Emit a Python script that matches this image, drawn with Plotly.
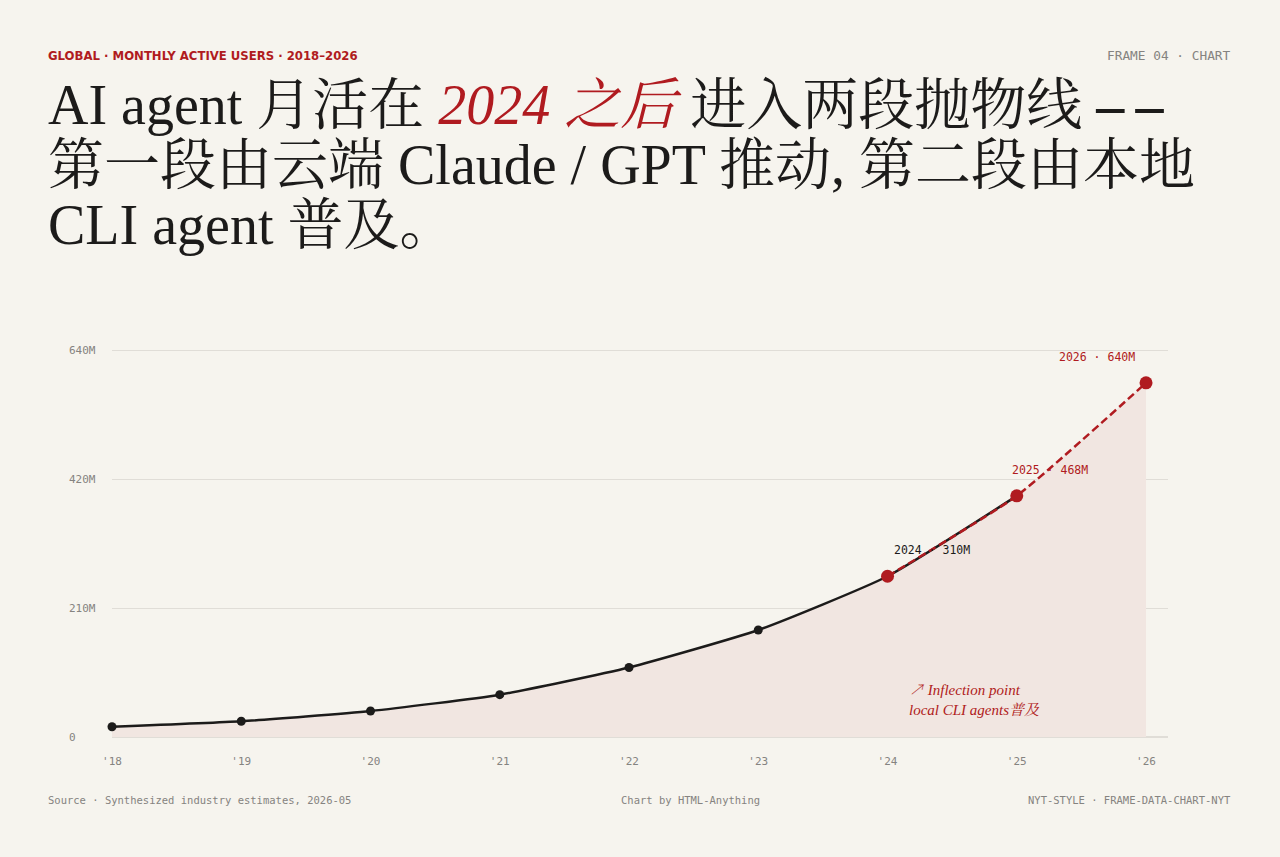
import plotly.graph_objects as go

# data (millions of monthly active users)
years = [2018, 2019, 2020, 2021, 2022, 2023, 2024, 2025, 2026]
year_labels = ["'18", "'19", "'20", "'21", "'22", "'23", "'24", "'25", "'26"]
mau = [17, 26, 43, 70, 115, 177, 266, 399, 586]

y_ticks = [0, 213.3, 426.7, 640]
y_tick_labels = ["0", "210M", "420M", "640M"]

callout_years = [2024, 2025, 2026]
callout_labels = ["2024 · 310M", "2025 · 468M", "2026 · 640M"]

BG = "#f6f4ee"
INK = "#1c1b1a"
RED = "#b01b20"
GREY = "#858380"
MONO = "DejaVu Sans Mono, Liberation Mono, monospace"
SERIF = "Liberation Serif, Noto Serif CJK SC, Noto Sans CJK SC, serif"

W, H = 1280, 857
L, R, T, B = 112, 112, 349, 120


def px(x):
    return (x - L) / (W - L - R)


def py(y):
    return (H - B - y) / (H - T - B)


fig = go.Figure()

# shaded area under the curve
fig.add_trace(go.Scatter(
    x=years, y=mau, mode="lines", fill="tozeroy",
    fillcolor="#f1e6e1", line=dict(width=0, shape="spline", smoothing=0.5),
    hoverinfo="skip", showlegend=False,
))

# observed line
n_obs = 8
fig.add_trace(go.Scatter(
    x=years[:n_obs], y=mau[:n_obs], mode="lines",
    line=dict(color=INK, width=2.5, shape="spline", smoothing=0.5),
    showlegend=False, cliponaxis=False,
))

# highlighted segment from 2024 on
k = years.index(2024)
fig.add_trace(go.Scatter(
    x=years[k:], y=mau[k:], mode="lines",
    line=dict(color=RED, width=2.5, dash="8px,4px", shape="spline", smoothing=0.5),
    showlegend=False, cliponaxis=False,
))

fig.add_trace(go.Scatter(
    x=years[:k], y=mau[:k], mode="markers",
    marker=dict(color=INK, size=9),
    showlegend=False, cliponaxis=False,
))
fig.add_trace(go.Scatter(
    x=years[k:], y=mau[k:], mode="markers",
    marker=dict(color=RED, size=13),
    showlegend=False, cliponaxis=False,
))

annotations = []

# point call-outs
shifts = {2024: ("left", 4, INK), 2025: ("left", -7, RED), 2026: ("right", -9, RED)}
for yr, lab in zip(callout_years, callout_labels):
    anchor, dx, col = shifts[yr]
    annotations.append(dict(
        x=yr, y=mau[years.index(yr)], xref="x", yref="y", text=lab,
        showarrow=False, xanchor=anchor, yanchor="middle",
        xshift=dx, yshift=26, font=dict(family=MONO, size=11.5, color=col),
    ))

# y tick labels, left aligned
for v, lab in zip(y_ticks, y_tick_labels):
    annotations.append(dict(
        x=px(67), y=v, xref="paper", yref="y", text=lab, showarrow=False,
        xanchor="left", yanchor="middle",
        font=dict(family=MONO, size=11, color=GREY),
    ))

# inflection note
annotations.append(dict(
    x=px(907), y=py(700), xref="paper", yref="paper",
    text="<i>↗ Inflection point<br>local CLI agents普及</i>",
    showarrow=False, xanchor="left", yanchor="middle", align="left",
    font=dict(family=SERIF, size=15, color=RED),
))

# header
annotations.append(dict(
    x=px(46), y=py(56), xref="paper", yref="paper",
    text="<b>GLOBAL · MONTHLY ACTIVE USERS · 2018–2026</b>",
    showarrow=False, xanchor="left", yanchor="middle",
    font=dict(family="DejaVu Sans, sans-serif", size=11.7, color=RED),
))
annotations.append(dict(
    x=px(1233), y=py(55), xref="paper", yref="paper",
    text="FRAME 04 · CHART", showarrow=False, xanchor="right", yanchor="middle",
    font=dict(family=MONO, size=12.8, color=GREY),
))

# headline, three lines
title_lines = [
    "AI agent 月活在 <span style='color:%s'><i>2024 之后</i></span> 进入两段抛物线 "
    "<b>–\u2009–</b>" % RED,
    "第一段由云端 Claude / GPT 推动, 第二段由本地",
    "CLI agent 普及。",
]
for i, line in enumerate(title_lines):
    annotations.append(dict(
        x=px(46), y=py(105 + 60 * i), xref="paper", yref="paper",
        text=line, showarrow=False, xanchor="left", yanchor="middle",
        font=dict(family=SERIF, size=56, color=INK),
    ))

# footer
annotations.append(dict(
    x=px(46), y=py(800), xref="paper", yref="paper",
    text="Source · Synthesized industry estimates, 2026-05", showarrow=False,
    xanchor="left", yanchor="middle", font=dict(family=MONO, size=10.5, color=GREY),
))
annotations.append(dict(
    x=px(690), y=py(800), xref="paper", yref="paper",
    text="Chart by HTML-Anything", showarrow=False,
    xanchor="center", yanchor="middle", font=dict(family=MONO, size=10.5, color=GREY),
))
annotations.append(dict(
    x=px(1233), y=py(800), xref="paper", yref="paper",
    text="NYT-STYLE · FRAME-DATA-CHART-NYT", showarrow=False,
    xanchor="right", yanchor="middle", font=dict(family=MONO, size=10.5, color=GREY),
))

fig.update_layout(
    width=W, height=H,
    margin=dict(l=L, r=R, t=T, b=B, pad=0),
    paper_bgcolor=BG, plot_bgcolor=BG,
    annotations=annotations,
    xaxis=dict(
        range=[2018, 2026.17], tickvals=years, ticktext=year_labels,
        showgrid=False, zeroline=False, showline=False,
        ticks="outside", ticklen=14, tickcolor=BG,
        tickfont=dict(family=MONO, size=11, color=GREY),
    ),
    yaxis=dict(
        range=[0, 642], tickvals=y_ticks, showticklabels=False,
        showgrid=True, gridcolor="#e0ddd7", gridwidth=1,
        zeroline=True, zerolinecolor="#e0ddd7", zerolinewidth=2,
        showline=False,
    ),
    hovermode=False,
)

fig.write_html("out.html", config={"displayModeBar": False},
               post_script="document.body.style.margin='0';")
